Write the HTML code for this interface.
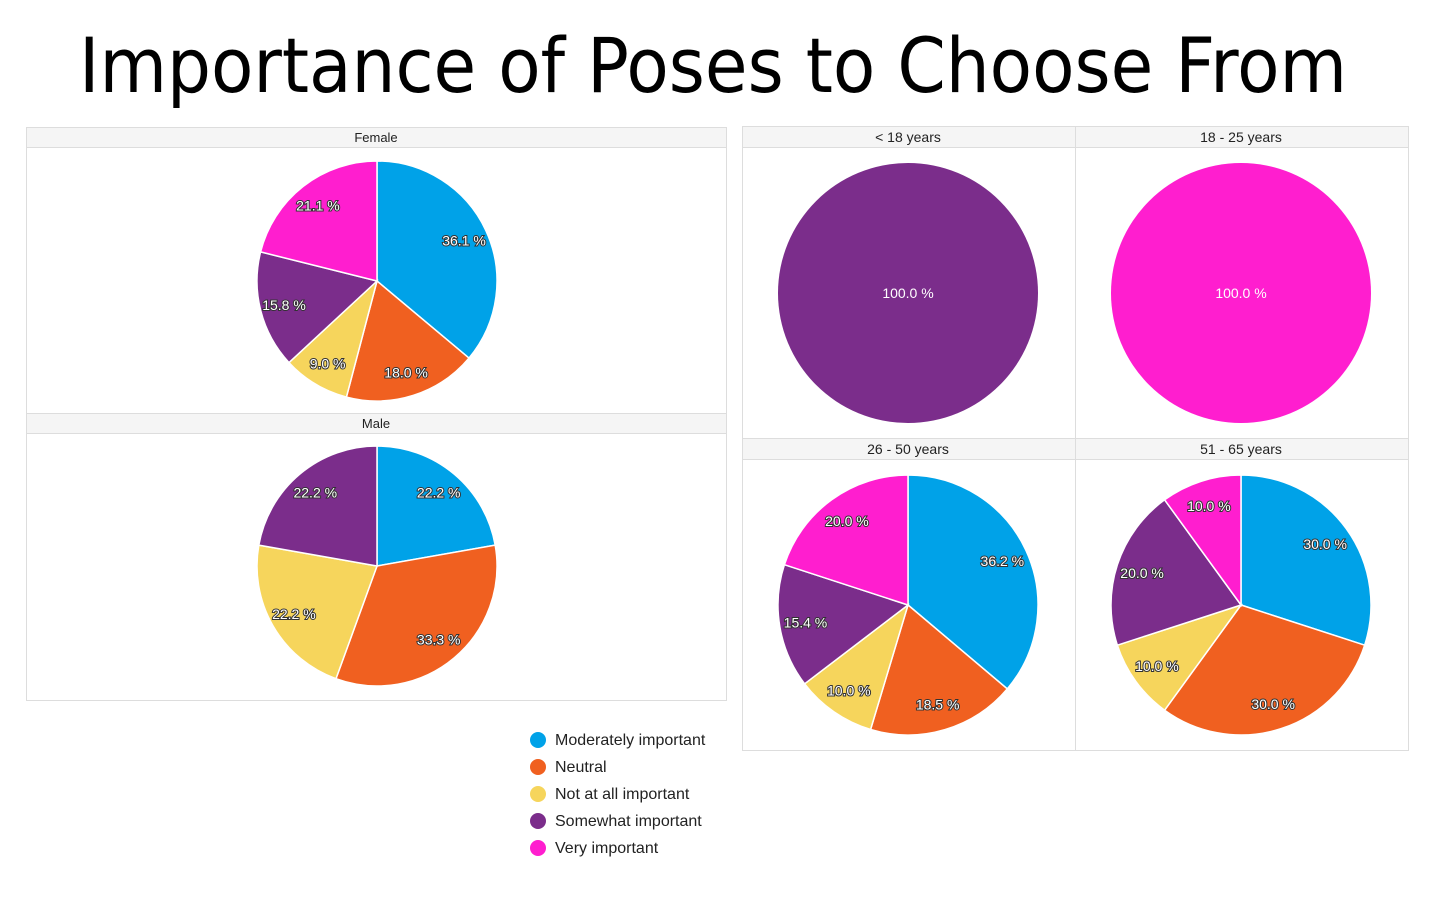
<!DOCTYPE html>
<html><head><meta charset="utf-8"><style>
body{margin:0;width:1431px;height:913px;background:#fff;overflow:hidden;font-family:"Liberation Sans",sans-serif}
</style></head><body>
<svg id="s" width="1431" height="913" xmlns="http://www.w3.org/2000/svg" font-family="Liberation Sans, sans-serif">
<text x="713" y="92" font-size="76" text-anchor="middle" fill="#000" font-family="DejaVu Sans, sans-serif" textLength="1268" lengthAdjust="spacingAndGlyphs">Importance of Poses to Choose From</text>
<rect x="26.5" y="127.5" width="700" height="573" fill="#fff" stroke="#ddd"/>
<rect x="26.5" y="127.5" width="700" height="20" fill="#f5f5f5" stroke="#ddd"/>
<rect x="26.5" y="413.5" width="700" height="20" fill="#f5f5f5" stroke="#ddd"/>
<text x="376" y="142" font-size="13" text-anchor="middle" fill="#222">Female</text>
<text x="376" y="428" font-size="13" text-anchor="middle" fill="#222">Male</text>
<rect x="742.5" y="126.5" width="666" height="624" fill="#fff" stroke="#ddd"/>
<rect x="742.5" y="126.5" width="666" height="21" fill="#f5f5f5" stroke="#ddd"/>
<rect x="742.5" y="438.5" width="666" height="21" fill="#f5f5f5" stroke="#ddd"/>
<line x1="1075.5" y1="126" x2="1075.5" y2="750" stroke="#ddd"/>
<text x="908" y="142" font-size="14" text-anchor="middle" fill="#222">&lt; 18 years</text>
<text x="1241" y="142" font-size="14" text-anchor="middle" fill="#222">18 - 25 years</text>
<text x="908" y="454" font-size="14" text-anchor="middle" fill="#222">26 - 50 years</text>
<text x="1241" y="454" font-size="14" text-anchor="middle" fill="#222">51 - 65 years</text>
<g id="pies"></g>
<g font-size="16" fill="#222">
<circle cx="538" cy="740" r="8" fill="#00a2e8"/><text x="555" y="745">Moderately important</text>
<circle cx="538" cy="767" r="8" fill="#f06020"/><text x="555" y="772">Neutral</text>
<circle cx="538" cy="794" r="8" fill="#f6d55c"/><text x="555" y="799">Not at all important</text>
<circle cx="538" cy="821" r="8" fill="#7b2d8b"/><text x="555" y="826">Somewhat important</text>
<circle cx="538" cy="848" r="8" fill="#ff1ecf"/><text x="555" y="853">Very important</text>
</g>
</svg>
<script>
var C=["#00a2e8","#f06020","#f6d55c","#7b2d8b","#ff1ecf"];
var pies=[
 [377,281,120,[36.1,18.0,9.0,15.8,21.1],["36.1 %","18.0 %","9.0 %","15.8 %","21.1 %"]],
 [377,566,120,[22.2,33.3,22.2,22.2,0],["22.2 %","33.3 %","22.2 %","22.2 %",""]],
 [908,605,130,[36.2,18.5,10.0,15.4,20.0],["36.2 %","18.5 %","10.0 %","15.4 %","20.0 %"]],
 [1241,605,130,[30,30,10,20,10],["30.0 %","30.0 %","10.0 %","20.0 %","10.0 %"]]
];
var g=document.getElementById('pies'),h="";
pies.forEach(function(p){
 var cx=p[0],cy=p[1],r=p[2],v=p[3],tot=v.reduce(function(a,b){return a+b},0),a=0;
 var labels="";
 v.forEach(function(val,i){
  if(!val)return;
  var a0=a/tot*2*Math.PI,a1=(a+val)/tot*2*Math.PI;a+=val;
  var x0=cx+r*Math.sin(a0),y0=cy-r*Math.cos(a0),x1=cx+r*Math.sin(a1),y1=cy-r*Math.cos(a1);
  h+='<path d="M'+cx+','+cy+'L'+x0+','+y0+'A'+r+','+r+' 0 '+((a1-a0)>Math.PI?1:0)+' 1 '+x1+','+y1+'Z" fill="'+C[i]+'" stroke="#fff" stroke-width="1.5"/>';
  var m=(a0+a1)/2,lr=r*0.8;
  labels+='<text x="'+(cx+lr*Math.sin(m))+'" y="'+(cy-lr*Math.cos(m)+5)+'" font-size="14" text-anchor="middle" fill="#fff" stroke="#333" stroke-width="2" paint-order="stroke">'+p[4][i]+'</text>';
 });
 h+=labels;
});
h+='<circle cx="908" cy="293" r="130" fill="#7b2d8b"/><text x="908" y="298" font-size="14" text-anchor="middle" fill="#fff">100.0 %</text>';
h+='<circle cx="1241" cy="293" r="130" fill="#ff1ecf"/><text x="1241" y="298" font-size="14" text-anchor="middle" fill="#fff">100.0 %</text>';
g.innerHTML=h;
</script>
</body></html>
